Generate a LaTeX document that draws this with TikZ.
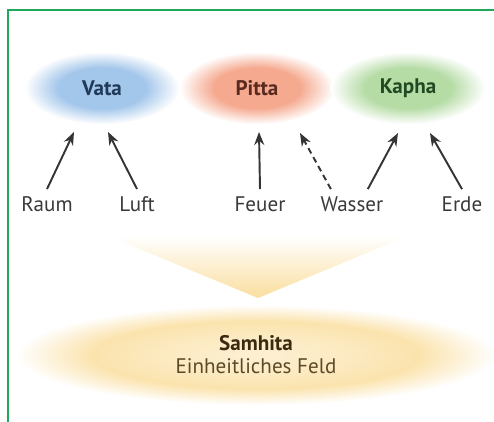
\documentclass[tikz,border=0pt]{standalone}
\usepackage{fontspec}
\setmainfont{PT Sans}
\usetikzlibrary{positioning, arrows.meta, shapes.geometric}
\definecolor{ink}{HTML}{3A3A3A}
\definecolor{framegreen}{HTML}{1FA85A}
\definecolor{vatabg}{HTML}{A3C6EB}
\definecolor{vatatx}{HTML}{203A58}
\definecolor{pittabg}{HTML}{F5AA90}
\definecolor{pittatx}{HTML}{5A2A20}
\definecolor{kaphabg}{HTML}{B6DCA6}
\definecolor{kaphatx}{HTML}{1F4A22}
\definecolor{fieldbg}{HTML}{FADE9E}
\definecolor{fieldtx}{HTML}{3C2A10}
\definecolor{fieldsub}{HTML}{5E4A26}
\pgfdeclareradialshading{vatashade}{\pgfpointorigin}{color(0bp)=(vatabg); color(14bp)=(vatabg); color(25bp)=(white); color(50bp)=(white)}
\pgfdeclareradialshading{pittashade}{\pgfpointorigin}{color(0bp)=(pittabg); color(14bp)=(pittabg); color(25bp)=(white); color(50bp)=(white)}
\pgfdeclareradialshading{kaphashade}{\pgfpointorigin}{color(0bp)=(kaphabg); color(14bp)=(kaphabg); color(25bp)=(white); color(50bp)=(white)}
\pgfdeclareradialshading{fieldshade}{\pgfpointorigin}{color(0bp)=(fieldbg!45); color(10bp)=(fieldbg!65); color(17bp)=(fieldbg!85); color(25bp)=(white); color(50bp)=(white)}
\tikzset{
  dosha/.style={ellipse, minimum width=3.1cm, minimum height=1.45cm,
    font=\bfseries\fontsize{12}{14}\selectfont, inner sep=0pt},
  elem/.style={font=\fontsize{12}{14}\selectfont, text=ink, inner xsep=1.5pt, inner ysep=4pt},
  field/.style={ellipse, shading=fieldshade, minimum width=9.6cm,
    minimum height=2cm, align=center, font=\fontsize{12}{14}\selectfont, inner sep=0pt},
  flow/.style={-{Stealth[length=2.6mm, width=2mm]}, line width=1.1pt, color=ink!90!black},
  flowd/.style={flow, dash pattern=on 3.4pt off 2.4pt},
  frameline/.style={draw=framegreen, line width=1.1pt},
}

\begin{document}
\begin{tikzpicture}[x=0.02cm, y=-0.02cm]
  \useasboundingbox (0,0) rectangle (494,422);
  \draw[frameline] (8,422) -- (8,10) -- (494,10);
  % the three doshas
  \node[dosha, shading=vatashade, text=vatatx] (vata) at (102,88) {Vata};
  \node[dosha, shading=pittashade, text=pittatx] (pitta) at (257,88) {Pitta};
  \node[dosha, shading=kaphashade, text=kaphatx] (kapha) at (408,88) {Kapha};
  % elements
  \node[elem] (raum) at (47,204) {Raum};
  \node[elem] (luft) at (137,204) {Luft};
  \node[elem] (feuer) at (260,204) {Feuer};
  \node[elem] (wasser) at (352,204) {Wasser};
  \node[elem] (erde) at (462,204) {Erde};
  \coordinate (vataL) at (74,132);
  \coordinate (vataR) at (108,132);
  \coordinate (pittaL) at (259,132);
  \coordinate (pittaR) at (300,133);
  \coordinate (kaphaL) at (398,133);
  \coordinate (kaphaR) at (430,133);
  \draw[flow] (raum.north) -- (vataL);
  \draw[flow] (luft.north) -- (vataR);
  \draw[flow] (feuer.north) -- (pittaL);
  \draw[flowd] ([xshift=-12pt]wasser.north) -- (pittaR);
  \draw[flow] ([xshift=9pt]wasser.north) -- (kaphaL);
  \draw[flow] (erde.north) -- (kaphaR);
  % funnel into the field
  \shade[top color=white, bottom color=fieldbg] (108,236) -- (408,236) -- (258,298) -- cycle;
  \node[field] (samhita) at (256,355)
    {\textcolor{fieldtx}{\textbf{Samhita}}\\[-1pt]\textcolor{fieldsub}{Einheitliches Feld}};
\end{tikzpicture}
\end{document}
